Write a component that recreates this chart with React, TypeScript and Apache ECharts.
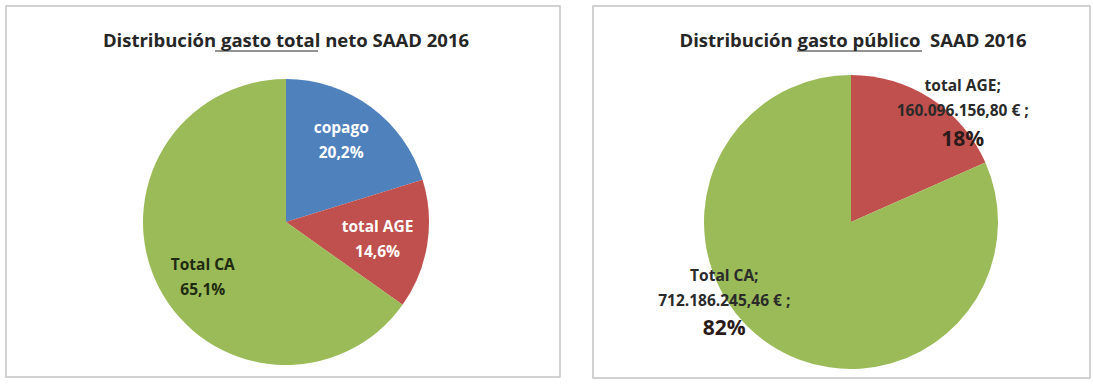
import React, { useEffect, useRef } from "react";
import * as echarts from "echarts";

const leftTitle = "Distribución gasto total neto SAAD 2016";
const rightTitle = "Distribución gasto público  SAAD 2016";

const leftCategories = ["copago", "total AGE", "Total CA"];
const leftValues = [20.2, 14.6, 65.1];

const rightCategories = ["total AGE", "Total CA"];
const rightValues = [160096156.8, 712186245.46];

const colorsLeft = ["#4F81BD", "#C0504D", "#9BBB59"];
const colorsRight = ["#C0504D", "#9BBB59"];

const leftLabelColors = ["#ffffff", "#ffffff", "#1e2a10"];
const leftOffsets = [[11, -23], [18, 5], [-17, 20]];
const rightOffsets = [[70, -45], [-85, 16]];

const FONT = "'Open Sans', 'Liberation Sans', sans-serif";

function fmtEs(v: number): string {
  const fixed = v.toFixed(2);
  const [intPart, dec] = fixed.split(".");
  const withDots = intPart.replace(/\B(?=(\d{3})+(?!\d))/g, ".");
  return withDots + "," + dec;
}

export default function App() {
  const ref = useRef<HTMLDivElement>(null);
  useEffect(() => {
    if (!ref.current) return;
    const chart = echarts.init(ref.current, undefined, { renderer: "svg" });
    chart.setOption({
      animation: false,
      backgroundColor: "#ffffff",
      title: [
        {
          text: leftTitle,
          left: 281,
          top: 25,
          textAlign: "center",
          textStyle: { fontFamily: FONT, fontSize: 18.5, fontWeight: "bold", color: "#262626" },
        },
        {
          text: rightTitle,
          left: 848,
          top: 25,
          textAlign: "center",
          textStyle: { fontFamily: FONT, fontSize: 18.5, fontWeight: "bold", color: "#262626" },
        },
      ],
      graphic: [
        {
          type: "rect",
          shape: { x: 6, y: 6, width: 554, height: 371 },
          style: { fill: "none", stroke: "#c4c4c4", lineWidth: 1.5 },
          silent: true,
        },
        {
          type: "rect",
          shape: { x: 593, y: 6, width: 497, height: 372 },
          style: { fill: "none", stroke: "#c4c4c4", lineWidth: 1.5 },
          silent: true,
        },
        {
          type: "line",
          shape: { x1: 215, y1: 51, x2: 318, y2: 51 },
          style: { stroke: "#262626", lineWidth: 1 },
          silent: true,
        },
        {
          type: "line",
          shape: { x1: 797, y1: 51, x2: 922, y2: 51 },
          style: { stroke: "#262626", lineWidth: 1 },
          silent: true,
        },
      ],
      series: [
        {
          type: "pie",
          center: [286, 222],
          radius: 143,
          startAngle: 90,
          clockwise: true,
          silent: true,
          labelLine: { show: false },
          data: leftCategories.map((name, i) => ({
            name,
            value: leftValues[i],
            itemStyle: { color: colorsLeft[i] },
            label: {
              show: true,
              position: "inside",
              offset: leftOffsets[i],
              color: leftLabelColors[i],
              fontFamily: FONT,
              fontSize: 15.5,
              fontWeight: "bold",
              lineHeight: 25,
              formatter: () => name + "\n" + leftValues[i].toFixed(1).replace(".", ",") + "%",
            },
          })),
        },
        {
          type: "pie",
          center: [851, 222],
          radius: 147,
          startAngle: 90,
          clockwise: true,
          silent: true,
          labelLine: { show: false },
          data: rightCategories.map((name, i) => ({
            name,
            value: rightValues[i],
            itemStyle: { color: colorsRight[i] },
            label: {
              show: true,
              position: "inside",
              offset: rightOffsets[i],
              formatter: (p: any) =>
                "{n|" + name + ";}\n{v|" + fmtEs(rightValues[i]) + " € ;}\n{p|" + Math.round(p.percent) + "%}",
              rich: {
                n: { fontFamily: FONT, fontSize: 15.5, fontWeight: "bold", color: "#2a2a2a", lineHeight: 25 },
                v: { fontFamily: FONT, fontSize: 15.5, fontWeight: "bold", color: "#2a2a2a", lineHeight: 25 },
                p: { fontFamily: FONT, fontSize: 21, fontWeight: "bold", color: "#2a1a1a", lineHeight: 30 },
              },
            },
          })),
        },
      ],
    });
    return () => chart.dispose();
  }, []);
  return (
    <div
      ref={ref}
      style={{ position: "fixed", left: 0, top: 0, width: 1093, height: 385 }}
    />
  );
}
